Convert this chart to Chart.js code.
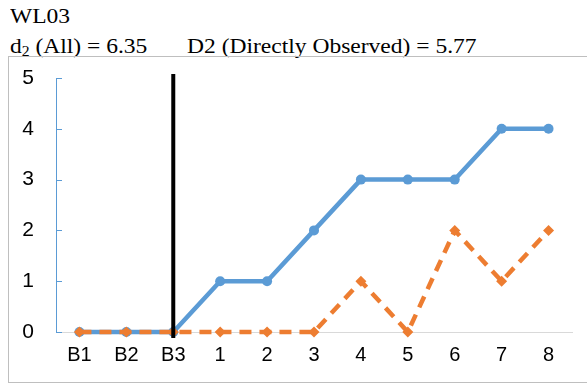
<!DOCTYPE html>
<html>
<head>
<meta charset="utf-8">
<script src="https://cdn.jsdelivr.net/npm/chart.js@4"></script>
<style>
  body { margin: 0; background: #fff; width: 587px; height: 387px; position: relative; overflow: hidden; }
  .title { position: absolute; left: 10px; font-family: "Liberation Serif", "Times New Roman", serif; font-size: 21px; line-height: 26px; color: #000; white-space: pre; transform: scaleX(1.12); transform-origin: left top; }
  #box { position: absolute; left: 8px; top: 56px; width: 600px; height: 325px; border: 1.5px solid #bfbfbf; }
  #box canvas { position: absolute; left: 0; top: 0; }
</style>
</head>
<body>
<div class="title" style="top:3px">WL03</div>
<div class="title" style="top:33px">d<sub style="font-size:14px;vertical-align:-3px">2</sub> (All) = 6.35</div>
<div class="title" style="top:33px;left:187px">D2 (Directly Observed) = 5.77</div>
<div id="box"><canvas id="c" width="570" height="327"></canvas></div>
<script>
const sessions = ['B1', 'B2', 'B3', '1', '2', '3', '4', '5', '6', '7', '8'];
const allBehaviour = [0, 0, 0, 1, 1, 2, 3, 3, 3, 4, 4];
const observedBehaviour = [0, 0, 0, 0, 0, 0, 1, 0, 2, 1, 2];
const yTicks = [0, 1, 2, 3, 4, 5];
const phaseChangeAt = 'B3';

// black phase-change line + inward tick marks on the y axis
const extras = {
  id: 'extras',
  afterDatasetsDraw(chart) {
    const { ctx, scales: { x, y } } = chart;
    ctx.save();
    ctx.strokeStyle = '#5b9bd5';
    ctx.lineWidth = 1;
    yTicks.forEach(v => {
      const py = Math.round(y.getPixelForValue(v)) + 0.5;
      ctx.beginPath();
      ctx.moveTo(x.left, py);
      ctx.lineTo(x.left + 6, py);
      ctx.stroke();
    });
    const px = x.getPixelForValue(sessions.indexOf(phaseChangeAt));
    ctx.strokeStyle = '#000';
    ctx.lineWidth = 4;
    ctx.beginPath();
    ctx.moveTo(px, y.getPixelForValue(5.08));
    ctx.lineTo(px, y.getPixelForValue(-0.12));
    ctx.stroke();
    ctx.restore();
  }
};

new Chart(document.getElementById('c'), {
  type: 'line',
  data: {
    labels: sessions,
    datasets: [
      {
        label: 'Directly Observed',
        data: observedBehaviour,
        borderColor: '#ed7d31',
        backgroundColor: '#ed7d31',
        borderWidth: 4.5,
        borderDash: [12, 8],
        pointStyle: 'rectRot',
        pointRadius: 5.5,
        pointBorderWidth: 0,
        tension: 0,
        clip: false
      },
      {
        label: 'All',
        data: allBehaviour,
        borderColor: '#5b9bd5',
        backgroundColor: '#5b9bd5',
        borderWidth: 4.5,
        pointStyle: 'circle',
        pointRadius: 5,
        pointBorderWidth: 0,
        tension: 0,
        clip: false
      }
    ]
  },
  options: {
    responsive: false,
    animation: false,
    layout: { padding: { top: 21, right: 7, left: 0, bottom: 0 } },
    plugins: { legend: { display: false }, tooltip: { enabled: false } },
    scales: {
      x: {
        offset: true,
        grid: { display: false, drawTicks: false },
        border: { color: '#d9d9d9', width: 1 },
        ticks: { color: '#000', padding: 11, font: { family: 'Liberation Sans', size: 20 } },
        afterFit(s) { s.height = 52; }
      },
      y: {
        min: 0,
        max: 5,
        grid: { display: false, drawTicks: false },
        border: { color: '#5b9bd5', width: 1 },
        ticks: { color: '#000', stepSize: 1, padding: 22, font: { family: 'Liberation Sans', size: 21 } },
        afterFit(s) { s.width = 47; s.paddingTop = 0; s.paddingBottom = 0; }
      }
    }
  },
  plugins: [extras]
});
</script>
</body>
</html>
